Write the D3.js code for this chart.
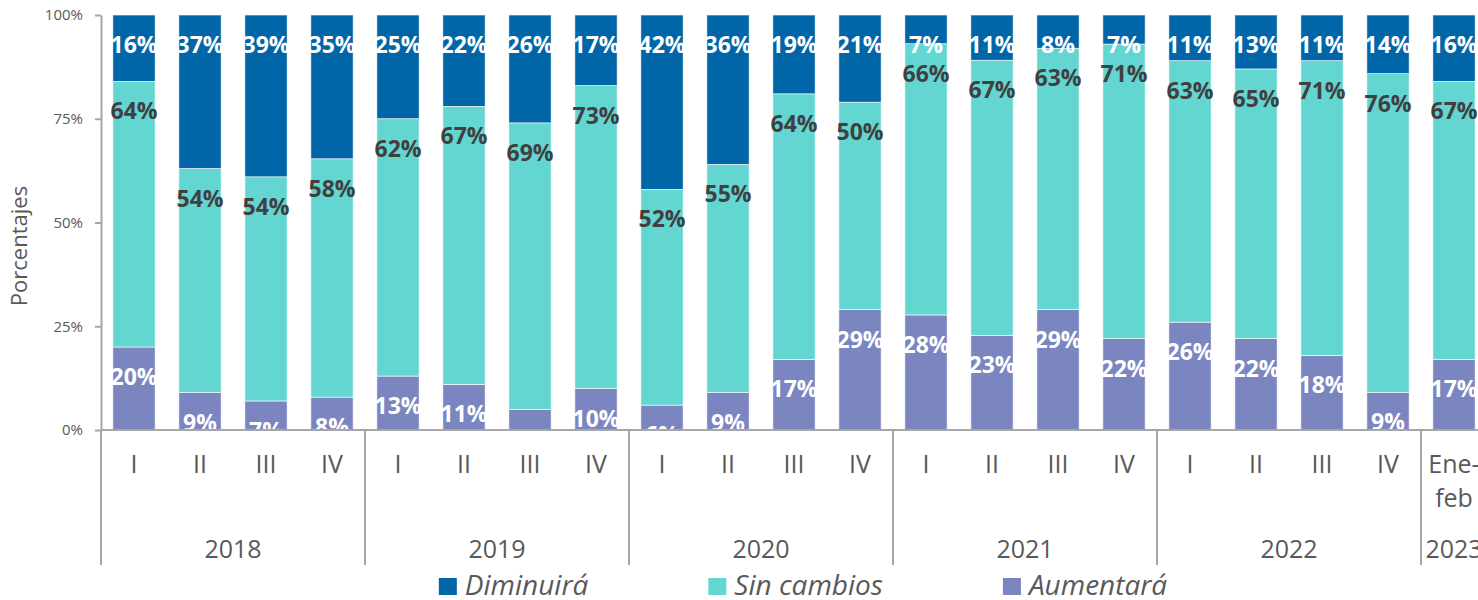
<!DOCTYPE html>
<html>
<head>
<meta charset="utf-8">
<script src="https://cdn.jsdelivr.net/npm/d3@7.9.0/dist/d3.min.js"></script>
<style>
  body { margin: 0; background: #fff; }
  svg { display: block; font-family: "Open Sans", "Noto Sans", sans-serif; }
</style>
</head>
<body>
<svg width="1478" height="600"></svg>
<script>
// categories: period label + year it belongs to
const periods = ["I", "II", "III", "IV", "I", "II", "III", "IV", "I", "II", "III", "IV",
  "I", "II", "III", "IV", "I", "II", "III", "IV", "Ene-feb"];
const years = ["2018", "2018", "2018", "2018", "2019", "2019", "2019", "2019",
  "2020", "2020", "2020", "2020", "2021", "2021", "2021", "2021",
  "2022", "2022", "2022", "2022", "2023"];

// series values (%)
const diminuira = [16, 37, 39, 35, 25, 22, 26, 17, 42, 36, 19, 21, 7, 11, 8, 7, 11, 13, 11, 14, 16];
const sinCambios = [64, 54, 54, 58, 62, 67, 69, 73, 52, 55, 64, 50, 66, 67, 63, 71, 63, 65, 71, 76, 67];
const aumentara = [20, 9, 7, 8, 13, 11, 5, 10, 6, 9, 17, 29, 28, 23, 29, 22, 26, 22, 18, 9, 17];

const seriesNames = ["Diminuirá", "Sin cambios", "Aumentará"];
const seriesColors = ["#0066a8", "#63d6d2", "#7b86c0"];
const labelColors = ["#ffffff", "#404040", "#ffffff"];
const yTicks = [0, 0.25, 0.5, 0.75, 1];

const svg = d3.select("svg");
const axisColor = "#a6a6a6";
const textColor = "#595959";
const plotTop = 15, plotBottom = 430;

const rows = periods.map((p, i) => ({
  key: years[i] + "-" + p,
  "Diminuirá": diminuira[i],
  "Sin cambios": sinCambios[i],
  "Aumentará": aumentara[i]
}));

const x = d3.scaleBand()
  .domain(rows.map((d) => d.key))
  .range([101, 1487])
  .paddingInner(0.36)
  .paddingOuter(0.18);
const y = d3.scaleLinear().domain([0, 1]).range([plotBottom, plotTop]);

// stack bottom -> top : Aumentará, Sin cambios, Diminuirá
const stacked = d3.stack()
  .keys(seriesNames.slice().reverse())
  .offset(d3.stackOffsetExpand)(rows);

const colorOf = (name) => seriesColors[seriesNames.indexOf(name)];
const labelColorOf = (name) => labelColors[seriesNames.indexOf(name)];

// bars
svg.append("g")
  .selectAll("g")
  .data(stacked)
  .join("g")
  .attr("fill", (s) => colorOf(s.key))
  .selectAll("rect")
  .data((s) => s)
  .join("rect")
  .attr("x", (d) => x(d.data.key))
  .attr("y", (d) => y(d[1]))
  .attr("width", x.bandwidth())
  .attr("height", (d) => y(d[0]) - y(d[1]))
  .attr("stroke", "#ffffff")
  .attr("stroke-width", 0.6);

// labels, clipped to the plot area
svg.append("clipPath").attr("id", "plotClip")
  .append("rect").attr("x", 0).attr("y", 0).attr("width", 1478).attr("height", plotBottom);

const labels = svg.append("g").attr("clip-path", "url(#plotClip)");
stacked.forEach((s) => {
  labels.append("g")
    .selectAll("text")
    .data(s)
    .join("text")
    .attr("x", (d) => x(d.data.key) + x.bandwidth() / 2)
    .attr("y", (d) => y(d[1]) + 38)
    .attr("text-anchor", "middle")
    .attr("font-size", 23)
    .attr("font-weight", "bold")
    .attr("fill", labelColorOf(s.key))
    .text((d) => d.data[s.key] + "%");
});

// y axis
const yAxis = svg.append("g")
  .attr("transform", "translate(101,0)")
  .call(d3.axisLeft(y).tickValues(yTicks).tickFormat(d3.format(".0%"))
    .tickSize(6).tickSizeOuter(0).tickPadding(12));
yAxis.select(".domain").attr("stroke", axisColor).attr("stroke-width", 2);
yAxis.selectAll(".tick line").attr("stroke", axisColor).attr("stroke-width", 2);
yAxis.selectAll(".tick text")
  .attr("fill", textColor)
  .attr("font-size", 15)
  .attr("font-family", "'Open Sans', sans-serif");

svg.append("text")
  .attr("transform", "translate(27,246) rotate(-90)")
  .attr("text-anchor", "middle")
  .attr("font-size", 22)
  .attr("fill", textColor)
  .text("Porcentajes");

// x axis line
svg.append("line")
  .attr("x1", 101).attr("x2", 1487)
  .attr("y1", plotBottom).attr("y2", plotBottom)
  .attr("stroke", axisColor).attr("stroke-width", 2);

// period labels
const pLabels = svg.append("g")
  .selectAll("text")
  .data(rows)
  .join("text")
  .attr("x", (d) => x(d.key) + x.bandwidth() / 2)
  .attr("y", 473)
  .attr("text-anchor", "middle")
  .attr("font-size", 25)
  .attr("fill", textColor);
pLabels.each(function (d, i) {
  const parts = periods[i].includes("-")
    ? [periods[i].split("-")[0] + "-", periods[i].split("-")[1]]
    : [periods[i]];
  const t = d3.select(this);
  parts.forEach((p, j) => {
    t.append("tspan")
      .attr("x", x(d.key) + x.bandwidth() / 2)
      .attr("dy", j === 0 ? 0 : 34)
      .text(p);
  });
});

// year groups: separators + labels
const groups = d3.groups(rows, (d) => years[rows.indexOf(d)]);
const half = (x.step() * x.paddingInner()) / 2;
groups.forEach(([year, items]) => {
  const x0 = x(items[0].key) - half;
  const x1 = x(items[items.length - 1].key) + x.bandwidth() + half;
  svg.append("line")
    .attr("x1", x0).attr("x2", x0)
    .attr("y1", plotBottom).attr("y2", 565)
    .attr("stroke", axisColor).attr("stroke-width", 2);
  svg.append("text")
    .attr("x", (x0 + x1) / 2)
    .attr("y", 558)
    .attr("text-anchor", "middle")
    .attr("font-size", 25)
    .attr("fill", textColor)
    .text(year);
});

// legend
const legend = svg.append("g");
let lx = 0;
const gap = 120;
seriesNames.forEach((name, i) => {
  const g = legend.append("g").attr("transform", `translate(${lx},0)`);
  g.append("rect")
    .attr("x", 0).attr("y", 578)
    .attr("width", 18).attr("height", 17)
    .attr("fill", seriesColors[i]);
  const t = g.append("text")
    .attr("x", 26).attr("y", 595)
    .attr("font-size", 28)
    .attr("font-style", "italic")
    .attr("fill", textColor)
    .text(name);
  lx += 26 + t.node().getComputedTextLength() + gap;
});
legend.attr("transform", `translate(${803 - (lx - gap) / 2},0)`);
</script>
</body>
</html>
